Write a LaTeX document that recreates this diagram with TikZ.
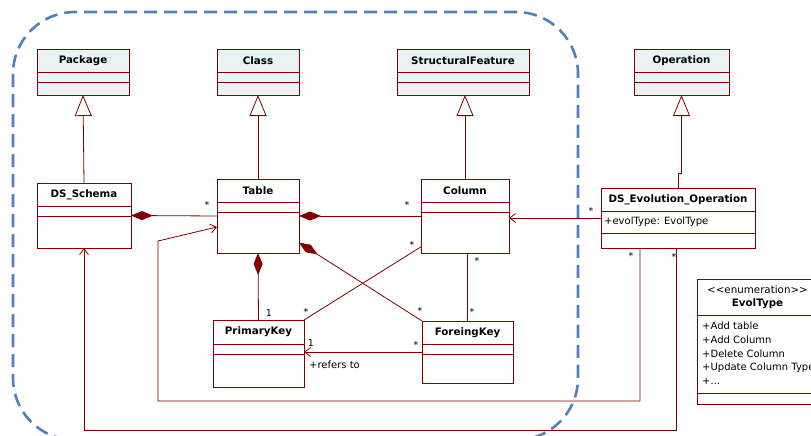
\documentclass[tikz,border=0pt]{standalone}
\usepackage{fontspec}
\setmainfont{DejaVu Sans}
\usetikzlibrary{arrows.meta}
\definecolor{umlred}{RGB}{128,0,0}
\definecolor{umlfill}{RGB}{234,242,244}
\definecolor{regionblue}{RGB}{79,129,189}
\tikzset{
  umlline/.style={draw=umlred, line width=0.8pt},
  umlbox/.style={umlline, fill=white, anchor=north west, inner sep=0pt, outer sep=0pt},
  metabox/.style={umlbox, fill=umlfill},
  umltitle/.style={font=\fontsize{10.3}{13}\selectfont\bfseries, inner sep=0pt, align=center},
  umltext/.style={font=\fontsize{10}{13.7}\selectfont, inner sep=0pt, align=left},
  mult/.style={font=\fontsize{9.5}{10}\selectfont, inner sep=0pt},
  generalization/.style={umlline, -{Triangle[open, fill=white, length=21pt, width=17pt]}},
  composition/.style={umlline, {Diamond[length=22pt, width=9pt]}-},
  navigable/.style={umlline, -{Straight Barb[length=6pt, width=9pt]}},
  region/.style={draw=regionblue, line width=2.6pt, dash pattern=on 13pt off 7pt, rounded corners=62pt},
}
\def\umlclass[#1](#2)(#3,#4)(#5,#6)(#7,#8)#9{%
  \node[#1, minimum width=#5pt, minimum height=#6pt] (#2) at (#3,#4) {};
  \draw[umlline] ([yshift=-#7pt]#2.north west) -- ([yshift=-#7pt]#2.north east);
  \draw[umlline] ([yshift=-#8pt]#2.north west) -- ([yshift=-#8pt]#2.north east);
  \node[umltitle] (#2-name) at ([yshift={-0.5*#7pt}]#2.north) {#9};}

\begin{document}
\begin{tikzpicture}[x=1pt, y=-1pt]
    \useasboundingbox (0,0) rectangle (811,436);

    %%%%% region %%%%%
    \draw[region] (13,12) rectangle (578,440);

    %%%%% metaclasses %%%%%
    \umlclass[metabox](package)(37,49)(92,46)(23,33){Package}
    \umlclass[metabox](class)(217,49)(82,46)(23,33){Class}
    \umlclass[metabox](feature)(397,49)(132,46)(23,33){StructuralFeature}
    \umlclass[metabox](operation)(634,49)(95,46)(23,33){Operation}

    %%%%% classes %%%%%
    \umlclass[umlbox](schema)(37,183)(94,65)(23,33){DS\_Schema}
    \umlclass[umlbox](table)(217,179)(82,74)(23,33){Table}
    \umlclass[umlbox](column)(421,179)(88,74)(23,33){Column}
    \umlclass[umlbox](pk)(213,320)(91,67)(24,34){PrimaryKey}
    \umlclass[umlbox](fk)(422,321)(91,62)(23,33){ForeingKey}
    \umlclass[umlbox](evol)(601,188)(154,60)(23,45){DS\_Evolution\_Operation}
    \node[umltext, anchor=west] (evol-attr) at (604,222) {+evolType: EvolType};

    \umlclass[umlbox](evoltype)(697,279)(121,125)(36,114){{\mdseries <{}<enumeration>{}>}\\EvolType}
    \node[umltext, anchor=north west] (evoltype-lits) at (702,322)
        {+Add table\\+Add Column\\+Delete Column\\+Update Column Type\\+...};

    %%%%% generalizations %%%%%
    \draw[generalization] (schema.north) -- (package.south);
    \draw[generalization] (table.north) -- (class.south);
    \draw[generalization] (column.north) -- (column.north |- feature.south);
    \draw[generalization] (evol.north) -- ([yshift=15pt]evol.north) -| (operation.south);

    %%%%% compositions %%%%%
    \draw[composition] (schema.east) -- (table.west);
    \draw[composition] (table.east) -- (column.west);
    \draw[composition] (table.south) -- (pk.north);
    \draw[composition] (table.-33.4) -- (fk.north west);

    %%%%% associations %%%%%
    \draw[umlline] (column.215) -- (pk.north east);
    \draw[umlline] (fk.north) -- (fk.north |- column.south);
    \draw[navigable] (fk.west) -- (fk.west -| pk.east);
    \draw[navigable] (evol.west) -- (evol.west -| column.east);
    \draw[navigable] ([xshift=39pt]evol.south west) -- ++(0,153) -| (158,241) -- (table.195);
    \draw[navigable] ([xshift=75pt]evol.south west) -- ++(0,182) -| (schema.south);

    %%%%% multiplicities %%%%%
    \node[mult] (m1) at (207,205) {*};
    \node[mult] (m2) at (407,205) {*};
    \node[mult] (m3) at (591,211) {*};
    \node[mult] (m4) at (412,245) {*};
    \node[mult] (m5) at (477,261) {*};
    \node[mult] (m6) at (306,312) {*};
    \node[mult] (m7) at (420,311) {*};
    \node[mult] (m8) at (472,312) {*};
    \node[mult] (m9) at (269,313) {1};
    \node[mult] (m10) at (311,343) {1};
    \node[mult] (m11) at (416,345) {*};
    \node[mult] (m12) at (631,256) {*};
    \node[mult] (m13) at (674,257) {*};
    \node[umltext, anchor=west] (refers) at (309,365) {+refers to};
\end{tikzpicture}
\end{document}
